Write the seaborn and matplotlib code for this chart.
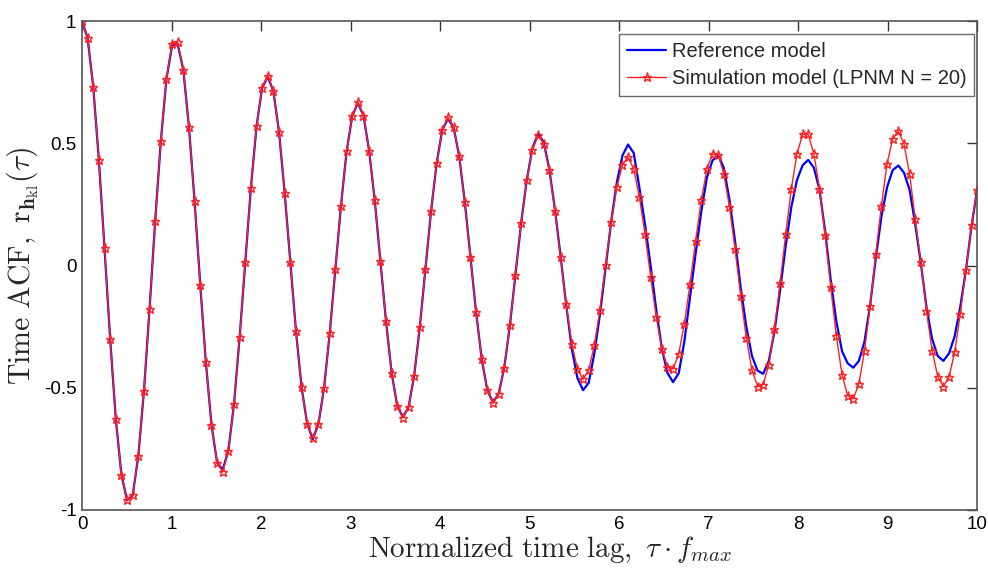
import numpy as np
import pandas as pd
import matplotlib
matplotlib.use("Agg")
import matplotlib.pyplot as plt
import seaborn as sns

# normalized time lag grid (160 samples from 0 to 10)
tau = np.linspace(0, 10, 160)

sim_acf = [
    1.00, 0.93, 0.73, 0.43, 0.07, -0.30, -0.627, -0.856, -0.96, -0.94,
    -0.78, -0.514, -0.177, 0.184, 0.508, 0.764, 0.907, 0.913, 0.80, 0.566,
    0.262, -0.078, -0.395, -0.652, -0.807, -0.845, -0.757, -0.566, -0.293, 0.014,
    0.318, 0.569, 0.727, 0.777, 0.713, 0.545, 0.297, 0.014, -0.266, -0.498,
    -0.648, -0.705, -0.648, -0.50, -0.277, -0.014, 0.245, 0.467, 0.611, 0.668,
    0.613, 0.47, 0.266, 0.02, -0.228, -0.439, -0.575, -0.623, -0.58, -0.45,
    -0.252, -0.014, 0.222, 0.42, 0.555, 0.607, 0.566, 0.447, 0.259, 0.034,
    -0.191, -0.382, -0.511, -0.563, -0.525, -0.419, -0.245, -0.037, 0.173, 0.35,
    0.473, 0.532, 0.498, 0.389, 0.225, 0.034, -0.157, -0.32, -0.423, -0.466,
    -0.427, -0.327, -0.181, 0.004, 0.177, 0.32, 0.412, 0.443, 0.395, 0.28,
    0.13, -0.045, -0.211, -0.341, -0.416, -0.423, -0.361, -0.238, -0.075, 0.102,
    0.266, 0.395, 0.457, 0.454, 0.375, 0.241, 0.068, -0.123, -0.296, -0.427,
    -0.495, -0.487, -0.405, -0.259, -0.072, 0.13, 0.314, 0.457, 0.536, 0.536,
    0.457, 0.314, 0.123, -0.089, -0.29, -0.446, -0.532, -0.545, -0.484, -0.348,
    -0.164, 0.048, 0.245, 0.416, 0.518, 0.549, 0.498, 0.375, 0.191, 0.014,
    -0.184, -0.348, -0.454, -0.495, -0.457, -0.355, -0.198, -0.02, 0.164, 0.31,
]

ref_acf = [
    1.00, 0.93, 0.73, 0.43, 0.07, -0.30, -0.627, -0.856, -0.96, -0.94,
    -0.78, -0.514, -0.177, 0.184, 0.508, 0.764, 0.90, 0.905, 0.80, 0.566,
    0.262, -0.078, -0.395, -0.652, -0.807, -0.835, -0.757, -0.566, -0.293, 0.014,
    0.318, 0.569, 0.727, 0.772, 0.713, 0.545, 0.297, 0.014, -0.266, -0.498,
    -0.648, -0.71, -0.648, -0.50, -0.277, -0.014, 0.245, 0.467, 0.611, 0.665,
    0.613, 0.47, 0.266, 0.02, -0.228, -0.439, -0.575, -0.62, -0.58, -0.45,
    -0.252, -0.014, 0.222, 0.42, 0.555, 0.60, 0.566, 0.447, 0.259, 0.034,
    -0.191, -0.382, -0.511, -0.56, -0.525, -0.419, -0.245, -0.037, 0.173, 0.35,
    0.478, 0.54, 0.505, 0.395, 0.23, 0.04, -0.16, -0.34, -0.46, -0.51,
    -0.48, -0.36, -0.20, -0.01, 0.18, 0.34, 0.45, 0.495, 0.46, 0.32,
    0.17, 0.0, -0.18, -0.34, -0.44, -0.477, -0.44, -0.31, -0.13, 0.05,
    0.22, 0.36, 0.43, 0.45, 0.40, 0.27, 0.10, -0.09, -0.25, -0.37,
    -0.43, -0.443, -0.39, -0.27, -0.10, 0.08, 0.24, 0.35, 0.41, 0.432,
    0.40, 0.31, 0.14, -0.06, -0.23, -0.35, -0.40, -0.418, -0.39, -0.31,
    -0.16, 0.03, 0.20, 0.32, 0.39, 0.409, 0.38, 0.31, 0.17, 0.01,
    -0.17, -0.30, -0.37, -0.39, -0.36, -0.29, -0.17, -0.02, 0.16, 0.31,
]

x_ticks = [0, 1, 2, 3, 4, 5, 6, 7, 8, 9, 10]
y_ticks = [-1, -0.5, 0, 0.5, 1]
y_tick_labels = ["-1", "-0.5", "0", "0.5", "1"]

sns.set_style("white")
plt.rcParams["font.family"] = ["Liberation Sans", "DejaVu Sans"]
plt.rcParams["mathtext.fontset"] = "cm"

df = pd.DataFrame({"tau": tau, "ref": ref_acf, "sim": sim_acf})

fig = plt.figure(figsize=(9.88, 5.69), dpi=100)
ax = fig.add_axes([0.083, 0.1037, 0.906, 0.8593])

sns.lineplot(data=df, x="tau", y="ref", ax=ax, color="#0000ff", linewidth=1.6,
             label="Reference model")
sns.lineplot(data=df, x="tau", y="sim", ax=ax, color="#ff2020", linewidth=1.0,
             marker="*", markersize=6.5, markerfacecolor="none",
             markeredgecolor="#ff2020", markeredgewidth=1.0,
             label="Simulation model (LPNM N = 20)")

ax.set_xlim(0, 10)
ax.set_ylim(-1, 1)
ax.set_xticks(x_ticks)
ax.set_xticklabels([str(t) for t in x_ticks])
ax.set_yticks(y_ticks)
ax.set_yticklabels(y_tick_labels)
ax.tick_params(direction="in", length=7, width=1.0, labelsize=13.5, colors="#333333",
               top=True, right=True, labelcolor="black", pad=4)
for s in ax.spines.values():
    s.set_color("#555555")
    s.set_linewidth(1.2)

ax.set_xlabel(r"$\mathrm{Normalized\ time\ lag,}\ \tau \cdot f_{max}$", fontsize=21, labelpad=1)
ax.xaxis.label.set_x(0.523)
ax.set_ylabel(r"$\mathrm{Time\ ACF,}\ \mathrm{r}_{\mathbf{h}_{\mathrm{kl}}}(\tau)$", fontsize=21.5, labelpad=2)

leg = ax.legend(loc="upper right", bbox_to_anchor=(0.997, 0.973), fontsize=14.5,
                frameon=True, fancybox=False, edgecolor="#444444",
                handlelength=1.9, handletextpad=0.3, borderpad=0.4,
                labelspacing=0.4, borderaxespad=0.0)
leg.get_frame().set_linewidth(1.0)

fig.savefig("out.png", dpi=100, facecolor="white")
